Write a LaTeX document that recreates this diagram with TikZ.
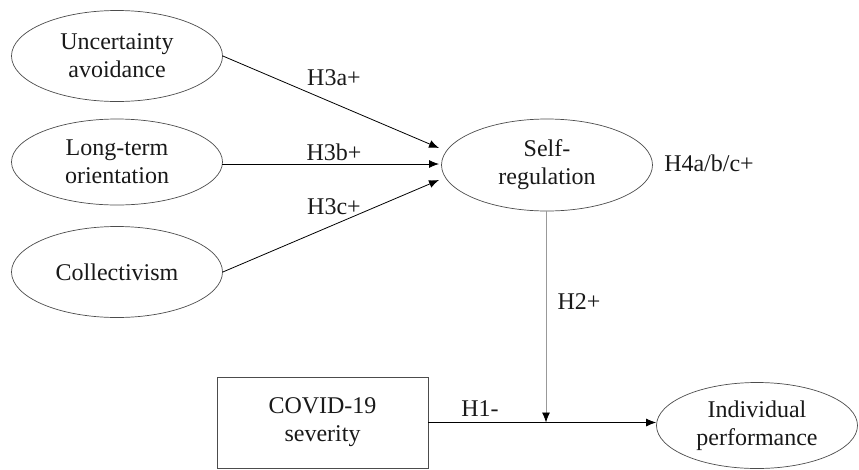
\documentclass[tikz,border=0pt]{standalone}
\usepackage{fontspec}
\setmainfont{Liberation Serif}
\usetikzlibrary{shapes.geometric,arrows.meta,calc}
\begin{document}
\begin{tikzpicture}[x=1pt,y=1pt,
  every node/.style={font=\fontsize{24}{28}\selectfont, text=black!90},
  ell/.style={ellipse, draw=black!70, line width=0.7pt, inner sep=0pt, align=center},
  boxnode/.style={rectangle, draw=black!70, line width=0.7pt, inner sep=0pt, align=center},
  arr/.style={-{Latex[length=10pt,width=8pt,black]}, line width=0.8pt, black},
  lbl/.style={inner sep=0pt}
]
\useasboundingbox (0,0) rectangle (859,-469);
\node[ell, minimum width=211, minimum height=91] (ua) at (117,-56) {Uncertainty\\avoidance};
\node[ell, minimum width=211, minimum height=86] (lto) at (117,-162) {Long-term\\orientation};
\node[ell, minimum width=211, minimum height=91] (col) at (117,-272) {Collectivism};
\node[ell, minimum width=211, minimum height=92] (sr) at (547,-165) {Self-\\regulation};
\node[boxnode, minimum width=211, minimum height=91] (cov) at (322.5,-422.5) {COVID-19\\severity};
\node[ell, minimum width=201, minimum height=86] (ip) at (757,-425.5) {Individual\\performance};

\coordinate (t1) at (439,-148);
\coordinate (t2) at (439,-164);
\coordinate (t3) at (439,-180);
\coordinate (s2) at (222,-164);
\coordinate (jn) at (546,-422.5);

\draw[arr] (ua.east) -- (t1);
\draw[arr] (s2) -- (t2);
\draw[arr] (col.east) -- (t3);
\draw[arr] (cov.east) -- (cov.east -| ip.west);
\draw[arr, draw=black!40] (sr.south -| jn) -- (jn);

\node[lbl] (h3a) at (334,-78) {H3a+};
\node[lbl] (h3b) at (334,-152) {H3b+};
\node[lbl] (h3c) at (334,-207) {H3c+};
\node[lbl] (h4) at (709,-163) {H4a/b/c+};
\node[lbl] (h2) at (579,-302) {H2+};
\node[lbl] (h1) at (480,-409) {H1-};
\end{tikzpicture}
\end{document}
